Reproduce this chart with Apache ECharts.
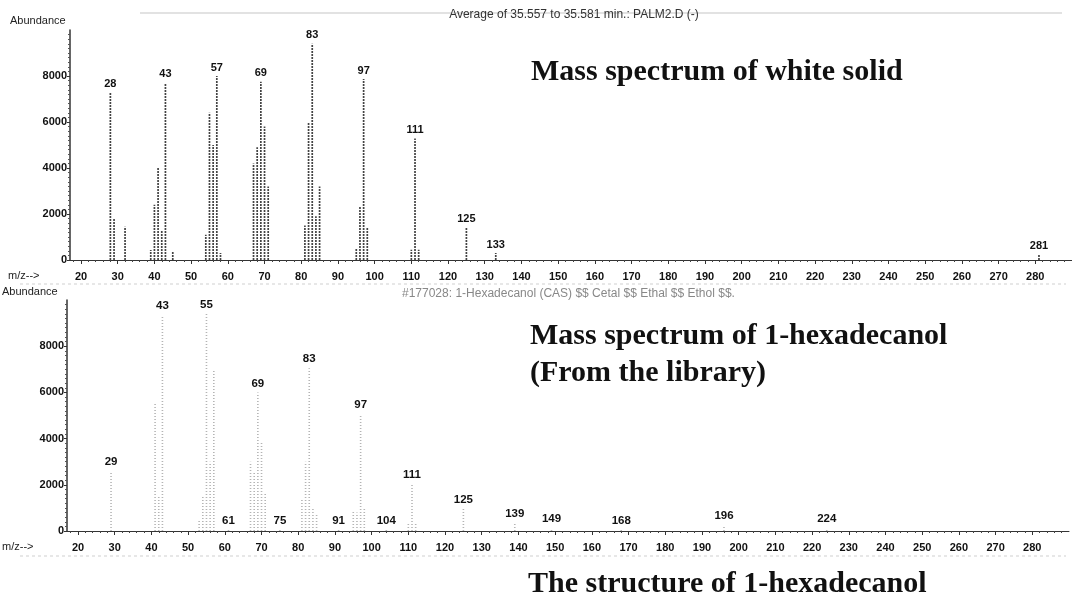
<!DOCTYPE html>
<html>
<head>
<meta charset="utf-8">
<title>Mass spectra</title>
<script src="https://cdn.jsdelivr.net/npm/echarts@6/dist/echarts.min.js"></script>
<style>
  html, body { margin: 0; padding: 0; background: #fff; }
  #chart { width: 1072px; height: 600px; }
</style>
</head>
<body>
<div id="chart"></div>
<script>
// Sample spectrum (averaged scan)
const sampleMz = [28, 29, 32, 39, 40, 41, 42, 43, 45, 54, 55, 56, 57, 58,
  67, 68, 69, 70, 71, 81, 82, 83, 84, 85, 95, 96, 97, 98, 110, 111, 112, 125, 133, 281];
const sampleAbundance = [7300, 1800, 1450, 430, 2400, 4000, 1300, 7700, 350, 1100, 6400, 5000, 8000, 300,
  4200, 4900, 7750, 5800, 3200, 1500, 6000, 9400, 1900, 3200, 500, 2300, 7870, 1400, 450, 5280, 450, 1430, 300, 260];
const sampleLabeled = [28, 43, 57, 69, 83, 97, 111, 125, 133, 281];

// Library reference spectrum: 1-hexadecanol
const libraryMz = [29, 41, 42, 43, 53, 54, 55, 56, 57, 61, 67, 68, 69, 70, 71, 75,
  81, 82, 83, 84, 85, 91, 95, 96, 97, 98, 104, 110, 111, 112, 125, 139, 149, 168, 196, 224];
const libraryAbundance = [2600, 5500, 1500, 9350, 500, 1500, 9400, 3000, 6950, 60, 3000, 2600, 6000, 3900, 1600, 60,
  1400, 3000, 7050, 1000, 700, 60, 900, 800, 5060, 1000, 60, 300, 2030, 300, 950, 350, 130, 60, 250, 120];
const libraryLabeled = [29, 43, 55, 61, 69, 75, 83, 91, 97, 104, 111, 125, 139, 149, 168, 196, 224];

// Axis ticks
const mzLabelTicks = [];
for (let v = 20; v <= 280; v += 10) mzLabelTicks.push(v);
const mzMinorTicks = [];
for (let v = 18; v <= 288; v += 2) mzMinorTicks.push(v);
const abundanceTicks = [0, 2000, 4000, 6000, 8000];

const MZ_MIN = 17, MZ_MAX = 290;
const AXIS_FONT = 'bold 11px "Liberation Sans", Arial, sans-serif';

function stickRenderer(color, dash, width, labeled, font) {
  return function (params, api) {
    const mz = api.value(0);
    const ab = api.value(1);
    const base = api.coord([mz, 0]);
    const top = api.coord([mz, ab]);
    const children = [{
      type: 'line',
      shape: { x1: base[0], y1: base[1], x2: top[0], y2: top[1] },
      style: { stroke: color, lineWidth: width, lineDash: dash }
    }];
    if (labeled.indexOf(mz) >= 0) {
      children.push({
        type: 'text',
        x: top[0], y: top[1] - 3,
        style: {
          text: String(mz), fill: '#111', font: font,
          align: 'center', verticalAlign: 'bottom',
          textAlign: 'center', textVerticalAlign: 'bottom'
        }
      });
    }
    return { type: 'group', children: children };
  };
}

function mzAxes(gridIndex) {
  return [
    {
      type: 'value', gridIndex: gridIndex, position: 'bottom', min: MZ_MIN, max: MZ_MAX,
      axisLine: { show: true, onZero: false, lineStyle: { color: '#333', width: 1 } },
      axisTick: { show: true, customValues: mzMinorTicks, length: 2, lineStyle: { color: '#444' } },
      axisLabel: { show: false },
      splitLine: { show: false }
    },
    {
      type: 'value', gridIndex: gridIndex, position: 'bottom', offset: 0, min: MZ_MIN, max: MZ_MAX,
      axisLine: { show: false, onZero: false },
      axisTick: { show: true, customValues: mzLabelTicks, length: 4, lineStyle: { color: '#333' } },
      axisLabel: {
        show: true, customValues: mzLabelTicks, margin: 11,
        color: '#111', fontSize: 11, fontWeight: 'bold', fontFamily: '"Liberation Sans", Arial, sans-serif'
      },
      splitLine: { show: false }
    }
  ];
}

function abundanceAxis(gridIndex) {
  return {
    type: 'value', gridIndex: gridIndex, min: 0, max: 10000,
    axisLine: { show: true, lineStyle: { color: '#333', width: 1.5 } },
    axisTick: { show: true, customValues: abundanceTicks, length: 3, lineStyle: { color: '#333' } },
    minorTick: { show: true, splitNumber: 10, length: 2, lineStyle: { color: '#555' } },
    axisLabel: {
      customValues: abundanceTicks, margin: 3,
      formatter: function (v) { return String(v); },
      color: '#111', fontSize: 11, fontWeight: 'bold', fontFamily: '"Liberation Sans", Arial, sans-serif'
    },
    splitLine: { show: false }
  };
}

function pairs(xs, ys) { return xs.map((x, i) => [x, ys[i]]); }

function txt(x, y, text, font, color, align) {
  return {
    type: 'text', x: x, y: y, silent: true,
    style: {
      text: text, font: font, fill: color || '#111',
      align: align || 'left', verticalAlign: 'middle',
      textAlign: align || 'left', textVerticalAlign: 'middle'
    }
  };
}

const chart = echarts.init(document.getElementById('chart'), null, { renderer: 'canvas' });

const TITLE_FONT = 'bold 30px "Liberation Serif", "Times New Roman", serif';
const SMALL_FONT = '12px "Liberation Sans", Arial, sans-serif';

chart.setOption({
  animation: false,
  backgroundColor: '#ffffff',
  grid: [
    { left: 70, right: 0, top: 30, height: 230 },
    { left: 67, right: 3, top: 300, height: 231 }
  ],
  xAxis: mzAxes(0).concat(mzAxes(1)),
  yAxis: [abundanceAxis(0), abundanceAxis(1)],
  series: [
    {
      type: 'custom', xAxisIndex: 0, yAxisIndex: 0,
      renderItem: stickRenderer('#444', [2, 1], 1.7, sampleLabeled, AXIS_FONT),
      data: pairs(sampleMz, sampleAbundance), clip: false
    },
    {
      type: 'custom', xAxisIndex: 2, yAxisIndex: 1,
      renderItem: stickRenderer('#b4b4b4', [1, 2], 1.6, libraryLabeled, 'bold 11.5px "Liberation Sans", Arial, sans-serif'),
      data: pairs(libraryMz, libraryAbundance), clip: false
    }
  ],
  graphic: [
    { type: 'line', silent: true, shape: { x1: 140, y1: 13, x2: 1062, y2: 13 }, style: { stroke: '#e2e2e2', lineWidth: 2 } },
    { type: 'line', silent: true, shape: { x1: 20, y1: 284, x2: 1066, y2: 284 }, style: { stroke: '#d0d0d0', lineWidth: 1, lineDash: [3, 3] } },
    { type: 'line', silent: true, shape: { x1: 20, y1: 556, x2: 1066, y2: 556 }, style: { stroke: '#d0d0d0', lineWidth: 1, lineDash: [3, 3] } },

    txt(10, 21, 'Abundance', '11px "Liberation Sans", Arial, sans-serif', '#222'),
    txt(8, 276, 'm/z-->', '11px "Liberation Sans", Arial, sans-serif', '#222'),
    txt(2, 292, 'Abundance', '11px "Liberation Sans", Arial, sans-serif', '#222'),
    txt(2, 547, 'm/z-->', '11px "Liberation Sans", Arial, sans-serif', '#222'),

    txt(574, 15, 'Average of 35.557 to 35.581 min.: PALM2.D (-)', SMALL_FONT, '#333', 'center'),
    txt(402, 294, '#177028: 1-Hexadecanol (CAS) $$ Cetal $$ Ethal $$ Ethol $$.', SMALL_FONT, '#888'),

    txt(531, 72, 'Mass spectrum of white solid', TITLE_FONT, '#111'),
    txt(530, 336, 'Mass spectrum of 1-hexadecanol', TITLE_FONT, '#111'),
    txt(530, 373, '(From the library)', TITLE_FONT, '#111'),
    txt(528, 584, 'The structure of 1-hexadecanol', TITLE_FONT, '#111')
  ]
});
</script>
</body>
</html>
